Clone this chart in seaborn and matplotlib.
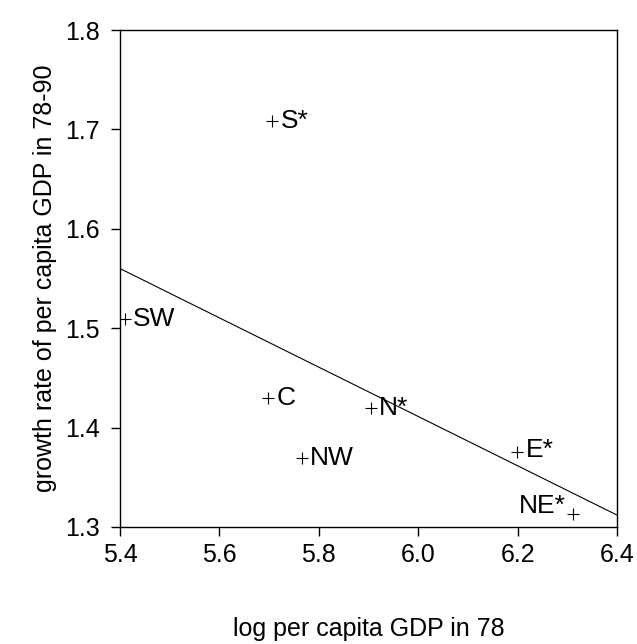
import matplotlib
matplotlib.use("Agg")
import matplotlib.pyplot as plt
import seaborn as sns
import pandas as pd

regions = ["S*", "SW", "C", "NW", "N*", "E*", "NE*"]
log_gdp78 = [5.706, 5.410, 5.698, 5.766, 5.905, 6.199, 6.312]
growth = [1.708, 1.509, 1.430, 1.369, 1.420, 1.375, 1.313]
fit_x = [5.4, 6.4]
fit_y = [1.560, 1.312]
x_ticks = [5.4, 5.6, 5.8, 6.0, 6.2, 6.4]
y_ticks = [1.3, 1.4, 1.5, 1.6, 1.7, 1.8]

sns.set_style("white")
plt.rcParams['font.family'] = ['Liberation Sans', 'DejaVu Sans']
plt.rcParams['text.color'] = 'black'
plt.rcParams['axes.labelcolor'] = 'black'

df = pd.DataFrame({"x": log_gdp78, "y": growth, "label": regions})
fit = pd.DataFrame({"x": fit_x, "y": fit_y})

fig = plt.figure(figsize=(6.37, 6.44), dpi=100)
ax = fig.add_axes([120/637, 1 - 527/644, 497/637, 497/644])

sns.lineplot(data=fit, x="x", y="y", ax=ax, color="black", linewidth=0.8)
sns.scatterplot(data=df, x="x", y="y", ax=ax, marker="+", s=75, color="black",
                linewidth=0.8)

offsets = {"NE*": (-5, 6, "right", "center"), "E*": (6, 2, "left", "center")}
for _, r in df.iterrows():
    dx, dy, ha, va = offsets.get(r["label"], (6, 0, "left", "center"))
    ax.annotate(r["label"], (r["x"], r["y"]), xytext=(dx, dy),
                textcoords="offset points", ha=ha, va=va, fontsize=19,
                color="black")

ax.set_xlim(5.4, 6.4)
ax.set_ylim(1.3, 1.8)
ax.set_xticks(x_ticks)
ax.set_xticklabels([f"{v:.1f}" for v in x_ticks])
ax.set_yticks(y_ticks)
ax.set_yticklabels([f"{v:.1f}" for v in y_ticks])
ax.tick_params(axis="both", direction="out", length=6.5, width=1, labelsize=18,
               colors="black", bottom=True, left=True, top=False, right=False)
ax.tick_params(axis="x", pad=5)
ax.tick_params(axis="y", pad=8)
for sp in ax.spines.values():
    sp.set_visible(True)
    sp.set_color("black")
    sp.set_linewidth(1.0)

ax.set_xlabel("log per capita GDP in 78", fontsize=18, labelpad=36)
ax.set_ylabel("growth rate of per capita GDP in 78-90", fontsize=18, labelpad=6)

fig.savefig("out.png", dpi=100)
